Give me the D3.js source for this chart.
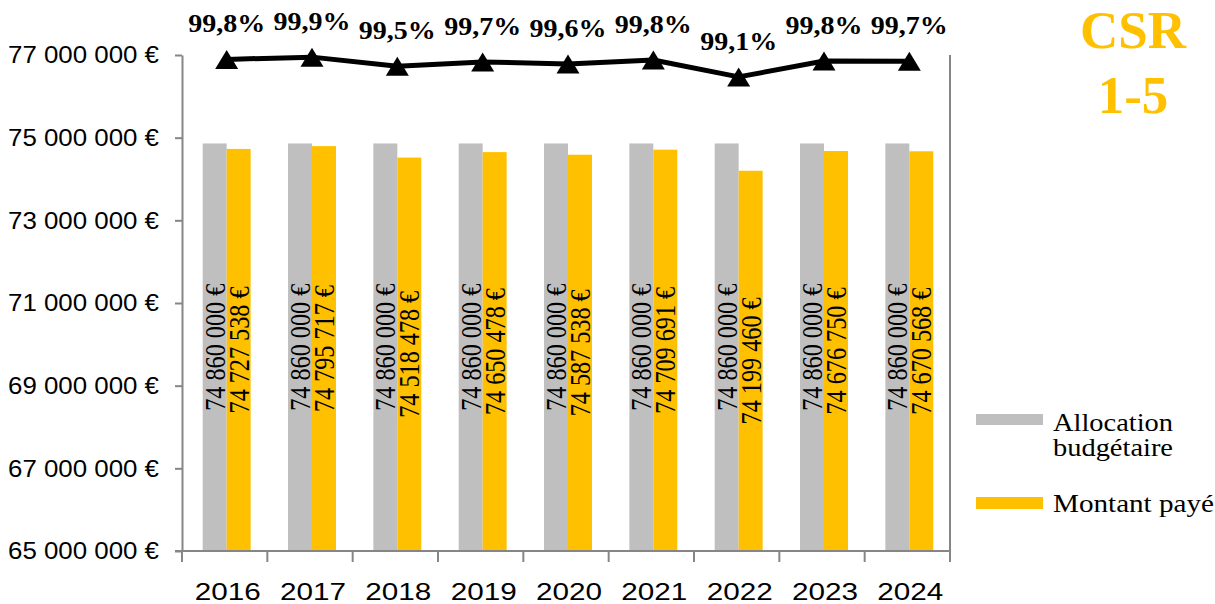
<!DOCTYPE html>
<html>
<head>
<meta charset="utf-8">
<script src="https://cdn.jsdelivr.net/npm/d3@7"></script>
<style>
  html, body { margin: 0; padding: 0; background: #fff; }
  svg { display: block; }
</style>
</head>
<body>
<svg id="chart" width="1215" height="604"></svg>
<script>
// ---- data ----
const years = ["2016","2017","2018","2019","2020","2021","2022","2023","2024"];
const allocation = [74860000,74860000,74860000,74860000,74860000,74860000,74860000,74860000,74860000];
const paid = [74727538,74795717,74518478,74650478,74587538,74709691,74199460,74676750,74670568];
const yTickValues = [65000000,67000000,69000000,71000000,73000000,75000000,77000000];
const yTickLabels = ["65 000 000 €","67 000 000 €","69 000 000 €","71 000 000 €","73 000 000 €","75 000 000 €","77 000 000 €"];
const seriesNames = ["Allocation budgétaire","Montant payé"];
const seriesColors = ["#BFBFBF","#FFC000"];
const titleLines = ["CSR","1-5"];

// ---- layout ----
const svg = d3.select("#chart");
const plot = { left: 182, right: 950, top: 55, bottom: 551 };
const axisColor = "#868686";
const serif = "'Liberation Serif', 'Times New Roman', Times, serif";
const sans = "'Liberation Sans', Arial, sans-serif";

const x = d3.scaleBand().domain(years).range([plot.left, plot.right]).padding(0);
const bw = x.bandwidth();
const x1 = d3.scaleBand().domain([0,1]).range([2, bw + 2]).paddingInner(0).paddingOuter(0.78);
const y = d3.scaleLinear().domain([65000000, 77000000]).range([plot.bottom, plot.top]);
const y2 = d3.scaleLinear().domain([0.8, 1.0]).range([plot.bottom, plot.top]);

const fmtInt = n => d3.format(",")(n).replace(/,/g, " ") + " €";
const rates = years.map((yr, i) => paid[i] / allocation[i]);
const fmtPct = r => (r * 100).toFixed(1).replace(".", ",") + "%";
const groupCenter = yr => x(yr) + bw / 2 + 2;

// ---- bars ----
const series = [allocation, paid];
series.forEach((vals, s) => {
  svg.append("g").selectAll("rect").data(years).join("rect")
    .attr("x", yr => x(yr) + x1(s))
    .attr("width", x1.bandwidth())
    .attr("y", (yr, i) => y(vals[i]))
    .attr("height", (yr, i) => y(65000000) - y(vals[i]))
    .attr("fill", seriesColors[s]);
});

// ---- bar value labels (rotated) ----
series.forEach((vals, s) => {
  svg.append("g").selectAll("text").data(years).join("text")
    .attr("transform", (yr, i) => {
      const cx = x(yr) + x1(s) + x1.bandwidth() / 2;
      const cy = (y(vals[i]) + y(65000000)) / 2;
      return `translate(${cx},${cy}) rotate(-90)`;
    })
    .attr("text-anchor", "middle")
    .attr("dominant-baseline", "central")
    .attr("font-family", serif)
    .attr("font-size", 29)
    .attr("textLength", 127)
    .attr("lengthAdjust", "spacingAndGlyphs")
    .attr("fill", "#000")
    .text((yr, i) => fmtInt(vals[i]));
});

// ---- y axis ----
const yAxis = d3.axisLeft(y)
  .tickValues(yTickValues)
  .tickFormat((d, i) => yTickLabels[i])
  .tickSize(7).tickSizeOuter(0).tickPadding(16);
const gy = svg.append("g").attr("transform", `translate(${plot.left},0)`).call(yAxis);
gy.select(".domain").attr("stroke", axisColor).attr("stroke-width", 2);
gy.selectAll(".tick line").attr("stroke", axisColor).attr("stroke-width", 2);
gy.selectAll(".tick text")
  .attr("font-family", sans).attr("font-size", 23.5).attr("fill", "#000")
  .attr("textLength", 151).attr("lengthAdjust", "spacingAndGlyphs")
  .attr("dy", "0.33em");

// right border line
svg.append("line")
  .attr("x1", plot.right).attr("x2", plot.right)
  .attr("y1", y(77000000)).attr("y2", plot.bottom)
  .attr("stroke", axisColor).attr("stroke-width", 2);

// ---- x axis ----
svg.append("line")
  .attr("x1", plot.left - 7).attr("x2", plot.right)
  .attr("y1", plot.bottom).attr("y2", plot.bottom)
  .attr("stroke", axisColor).attr("stroke-width", 2);
const bounds = years.map(yr => x(yr)).concat([plot.right]);
svg.append("g").selectAll("line").data(bounds).join("line")
  .attr("x1", d => d).attr("x2", d => d)
  .attr("y1", plot.bottom).attr("y2", plot.bottom + 11)
  .attr("stroke", axisColor).attr("stroke-width", 2);
svg.append("g").selectAll("text").data(years).join("text")
  .attr("x", yr => groupCenter(yr) + 1)
  .attr("y", 600)
  .attr("text-anchor", "middle")
  .attr("font-family", sans)
  .attr("font-size", 24)
  .attr("textLength", 66)
  .attr("lengthAdjust", "spacingAndGlyphs")
  .attr("fill", "#000")
  .text(yr => yr);

// ---- rate line ----
const line = d3.line().x(d => groupCenter(d.yr)).y(d => y2(d.r));
const pts = years.map((yr, i) => ({ yr, r: rates[i] }));
svg.append("path").datum(pts)
  .attr("d", line)
  .attr("fill", "none")
  .attr("stroke", "#000")
  .attr("stroke-width", 5)
  .attr("stroke-linejoin", "round");
svg.append("g").selectAll("path").data(pts).join("path")
  .attr("transform", d => `translate(${groupCenter(d.yr)},${y2(d.r)})`)
  .attr("d", "M0,-9.5 L11.5,9.5 L-11.5,9.5 Z")
  .attr("fill", "#000");
svg.append("g").selectAll("text").data(pts).join("text")
  .attr("x", d => groupCenter(d.yr))
  .attr("y", d => y2(d.r) - 27)
  .attr("text-anchor", "middle")
  .attr("font-family", serif)
  .attr("font-weight", "bold")
  .attr("font-size", 25)
  .attr("textLength", 77)
  .attr("lengthAdjust", "spacingAndGlyphs")
  .attr("fill", "#000")
  .text(d => fmtPct(d.r));

// ---- legend ----
const legend = svg.append("g");
const legendItems = [
  { lines: ["Allocation", "budgétaire"], color: seriesColors[0], sy: 414, sh: 11, ty: 431, lens: [120, 120] },
  { lines: ["Montant payé"], color: seriesColors[1], sy: 497, sh: 12, ty: 512, lens: [161] }
];
legendItems.forEach(it => {
  legend.append("rect").attr("x", 976).attr("y", it.sy).attr("width", 67).attr("height", it.sh).attr("fill", it.color);
  it.lines.forEach((t, j) => {
    legend.append("text")
      .attr("x", 1053).attr("y", it.ty + j * 25)
      .attr("font-family", serif).attr("font-size", 25)
      .attr("textLength", it.lens[j]).attr("lengthAdjust", "spacingAndGlyphs")
      .attr("fill", "#000").text(t);
  });
});

// ---- title ----
svg.append("g").selectAll("text").data(titleLines).join("text")
  .attr("x", 1133)
  .attr("y", (d, i) => 48 + i * 65)
  .attr("text-anchor", "middle")
  .attr("font-family", serif)
  .attr("font-weight", "bold")
  .attr("font-size", 53)
  .attr("fill", "#FFC000")
  .text(d => d);
</script>
</body>
</html>
